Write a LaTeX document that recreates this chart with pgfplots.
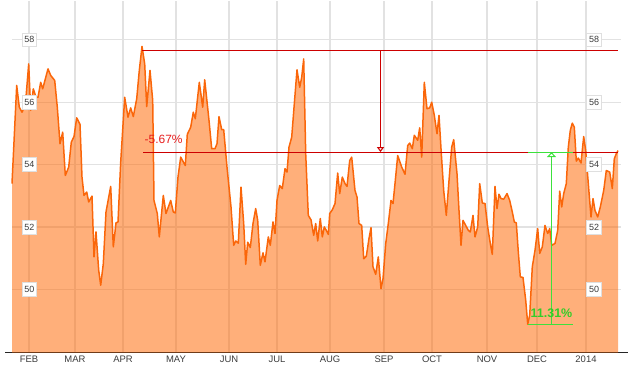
\documentclass[border=0pt]{standalone}
\usepackage{fontspec}
\setmainfont{Liberation Sans}
\usepackage{pgfplots}
\usepackage{pgfplotstable}
\pgfplotsset{compat=1.18}
\usetikzlibrary{arrows.meta}
\definecolor{lineor}{RGB}{250,102,10}
\definecolor{fillor}{RGB}{255,102,0}
\definecolor{gridc}{RGB}{226,226,226}
\definecolor{dred}{RGB}{205,0,0}
\definecolor{tred}{RGB}{230,30,30}
\definecolor{grn}{RGB}{60,225,60}
\definecolor{tgrn}{RGB}{50,205,40}
\definecolor{lbl}{RGB}{60,60,60}

\pgfplotstableread{
x y
12 53.39
16.7 56.54
19.3 55.84
22 55.68
24 55.82
26 56.16
28.7 57.23
30.7 55.74
33.3 56.43
36 56.16
38 56.16
40.7 56.64
42.7 56.43
48 57.07
50.7 56.86
54.7 56.70
57.3 55.84
60 54.67
62.7 55.04
65.3 53.65
68.7 53.92
71.3 54.72
74 54.90
76.7 55.50
80 55.29
82 53.60
84 53.01
86.7 53.12
88.7 52.80
92 52.99
94 51.04
96 51.84
98.7 50.61
100.7 50.13
103.3 50.82
106 52.48
110.7 53.30
113.3 51.36
116 52.13
118 52.16
120.7 54.08
124.7 56.16
128 55.52
130.7 55.82
133.3 55.54
136.7 56.11
139.3 57.02
142 57.79
144.7 57.23
146.7 55.86
150 57.02
152.7 56.06
154 52.85
157.3 52.43
159.3 51.68
163.3 53.01
166 52.43
170.7 52.85
173.3 52.48
175.3 52.45
178 53.60
180.7 54.24
185.3 53.97
187.3 54.97
190.7 55.20
193.3 55.68
195.3 55.47
199.3 56.64
202.7 55.84
204.7 56.72
209 55.42
211.7 54.51
215 54.51
217 54.67
219 55.54
221.7 55.12
223.7 55.12
227 53.92
231 52.64
233.7 51.41
235.7 51.55
238.3 51.48
241 53.28
243.7 52.11
245.7 50.80
247.7 51.51
250.3 51.34
253 52.11
255.7 52.59
257.7 52.21
260.3 50.77
263 51.17
265 50.88
268.3 51.68
270.3 51.41
273 52.16
275 51.79
277 52.85
279.7 53.33
282.3 53.23
285 53.87
287 53.76
289 54.56
291.7 54.88
294.3 55.95
297 57.04
299.7 56.48
301.7 56.80
303.7 57.39
305.7 54.35
308.3 52.37
311 52.23
313.7 51.73
315.7 52.11
317.7 51.55
320.3 52.27
322.3 51.68
324.3 52.00
326.3 51.89
328.3 51.76
329.7 52.43
332.3 52.55
335 52.75
337.7 53.73
339.7 53.07
342.3 53.60
345 53.39
347 53.30
349.7 54.13
351.7 54.24
355 53.17
357 52.96
359 52.11
361.7 52.05
363.7 50.98
366.3 51.06
369 51.63
371 51.98
373 50.72
375.7 50.48
378.3 51.04
381 50.02
383 50.34
385.7 51.46
388.3 52.11
391 52.85
393 52.75
395 53.39
397.7 54.29
401.7 53.92
405 53.69
407.7 54.61
409.7 54.69
412.3 54.51
414.3 54.94
417.7 54.78
419.7 55.18
421.7 54.24
424.3 56.64
427 55.79
429.7 55.82
431.7 56.00
434.3 55.58
437 54.99
439 55.58
441 54.51
443.7 53.17
446.3 52.37
449 53.49
451.7 54.56
453.7 54.80
457 53.71
459 52.53
461 51.41
463 52.21
465.7 52.05
468.3 51.89
470.3 51.84
473 52.37
475 51.68
477.7 52.00
479.7 53.39
482.3 52.77
485 52.75
487.7 52.00
490.3 51.47
492.3 51.12
495 53.30
497 52.59
499 53.05
501 52.91
503.7 52.89
507 53.07
509.7 52.85
512.3 52.48
514.3 52.16
516.3 52.13
518.3 51.20
520.3 50.40
523 50.38
525.7 49.65
527.7 48.88
529.7 49.17
532.3 50.72
535 51.25
537.7 51.95
539.7 51.15
542.3 51.36
545 52.05
547.7 51.79
549.7 51.95
551.7 51.41
555 51.47
557.7 51.89
559.7 53.15
561.7 52.64
563.7 53.07
566.3 53.39
568.3 54.56
570.3 55.10
572.3 55.33
574.3 55.20
576.3 54.11
578.3 54.21
581 54.05
583.7 54.90
585.7 54.45
588.3 53.39
591 52.32
593 52.91
595 52.53
597.7 52.32
600.3 52.64
603.7 53.17
606.3 53.81
609.7 53.76
612.3 53.23
614.3 54.19
616.3 54.35
618 54.45
}\pricedata

\begin{document}
\begin{tikzpicture}
\begin{axis}[
  scale only axis,
  width=623bp, height=352bp,
  xmin=5, xmax=628,
  ymin=47.97, ymax=59.26,
  clip=false,
  axis x line*=bottom,
  axis y line=none,
  x axis line style={draw=black!85, line width=1pt},
  xtick={29,75,123,176,229,277,330,384,432,487,537,586},
  xticklabels={FEB,MAR,APR,MAY,JUN,JUL,AUG,SEP,OCT,NOV,DEC,2014},
  xticklabel style={font=\fontsize{9.5}{10}\selectfont, text=lbl, yshift=0pt},
  major tick length=0pt,
  ytick=\empty,
  xmajorgrids,
  major grid style={draw=gridc, line width=1.2pt},
]
% horizontal grid lines
\foreach \v in {50,52,54,56,58} {
  \edef\tmp{\noexpand\draw[gridc, line width=1.2pt] (axis cs:12,\v) -- (axis cs:621,\v);}
  \tmp
}
% area fill
\addplot[draw=none, fill=fillor, fill opacity=0.52] table[x=x,y=y] {\pricedata} \closedcycle;
% line
\addplot[lineor, line width=1.5pt, line join=round, no marks] table[x=x,y=y] {\pricedata};

% red annotation
\draw[dred, line width=1.05bp] (axis cs:142,57.672) -- (axis cs:618,57.672);
\draw[dred, line width=1.05bp] (axis cs:143,54.401) -- (axis cs:618,54.401);
\draw[dred, line width=1.05bp, -{Triangle[open, length=5pt, width=7pt]}] (axis cs:380.5,57.672) -- (axis cs:380.5,54.401);
\node[text=tred, font=\fontsize{12}{12}\selectfont, anchor=west, inner sep=0pt] at (axis cs:144.5,54.80) {-5.67\%};

% green annotation
\draw[grn, line width=1.05bp] (axis cs:528.3,54.401) -- (axis cs:573.3,54.401);
\draw[grn, line width=1.05bp] (axis cs:528.3,48.869) -- (axis cs:573.3,48.869);
\draw[grn, line width=1.05bp, -{Triangle[open, length=5pt, width=9pt]}] (axis cs:551.5,48.869) -- (axis cs:551.5,54.401);
\node[text=tgrn, font=\bfseries\fontsize{12.5}{12.5}\selectfont, inner sep=0pt] at (axis cs:551.5,49.24) {11.31\%};

% y labels
\foreach \v in {50,52,54,56,58} {
  \edef\tmp{\noexpand\node[fill=white, draw=gray!25, line width=0.8pt, text=lbl, font=\noexpand\fontsize{9}{9}\noexpand\selectfont, inner xsep=2.2pt, minimum height=14pt] at (axis cs:29.3,\v) {\v};
  \noexpand\node[fill=white, draw=gray!25, line width=0.8pt, text=lbl, font=\noexpand\fontsize{9}{9}\noexpand\selectfont, inner xsep=2.2pt, minimum height=14pt] at (axis cs:594,\v) {\v};}
  \tmp
}
% bounding box
\path (axis cs:0,59.26) rectangle (axis cs:631,47.30);
\end{axis}
\end{tikzpicture}
\end{document}
